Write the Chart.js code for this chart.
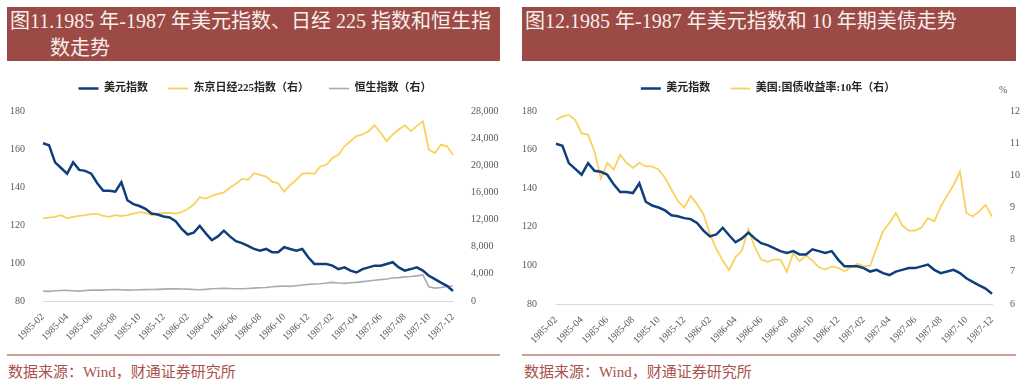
<!DOCTYPE html>
<html>
<head>
<meta charset="utf-8">
<script src="https://cdn.jsdelivr.net/npm/chart.js@4/dist/chart.umd.min.js"></script>
<style>
  body { margin: 0; width: 1024px; height: 387px; background: #fff; position: relative; overflow: hidden;
         font-family: 'Liberation Serif', 'Noto Sans CJK SC', serif; }
  .ttl { position: absolute; top: 7px; height: 54px; background: #9B4A46; color: #F8EDEA; font-size: 20px;
         line-height: 27px; white-space: nowrap; box-sizing: border-box; padding: 1px 0 0 3px; }
  .box { position: absolute; top: 57px; height: 291px; }
  .rule { position: absolute; top: 354px; height: 2px; background: #CFA09B; }
  .src { position: absolute; top: 360px; font-size: 15px; color: #A9524C; }
  .unit { position: absolute; left: 999px; top: 84px; font-size: 10px; color: #595959; }
</style>
</head>
<body>
<div class="ttl" style="left:7px;width:493px">图11.1985 年-1987 年美元指数、日经 225 指数和恒生指<div style="padding-left:40px">数走势</div></div>
<div class="ttl" style="left:522px;width:494px">图12.1985 年-1987 年美元指数和 10 年期美债走势</div>

<div class="box" style="left:0;width:510px"><canvas id="c1"></canvas></div>
<div class="box" style="left:512px;width:512px"><canvas id="c2"></canvas></div>
<div class="unit">%</div>

<div class="rule" style="left:7px;width:493px"></div>
<div class="rule" style="left:522px;width:494px"></div>
<div class="src" style="left:8px">数据来源：Wind，财通证券研究所</div>
<div class="src" style="left:524px">数据来源：Wind，财通证券研究所</div>

<script>
/* 1985-02 .. 1987-12, values read twice a month (1st / 16th) off the picture */
var MONTHS = ['1985-02','1985-03','1985-04','1985-05','1985-06','1985-07','1985-08','1985-09','1985-10','1985-11','1985-12',
  '1986-01','1986-02','1986-03','1986-04','1986-05','1986-06','1986-07','1986-08','1986-09','1986-10','1986-11','1986-12',
  '1987-01','1987-02','1987-03','1987-04','1987-05','1987-06','1987-07','1987-08','1987-09','1987-10','1987-11','1987-12'];

// 美元指数 (left axis, both charts)
var USD = [163,162,153,150,147,153,149,148.5,147,142,
  138,138,137.5,142.5,133,131,130,128.5,126,125.5,
  124.5,124,122,118,115,116,119.5,115.6,112,114,
  117,114,111.5,110.5,109,107.4,106.5,107.4,105.7,105.7,
  108.3,107.4,106.5,107.4,103,99.5,99.5,99.5,98.6,96.8,
  97.7,96,95,96.8,97.7,98.6,98.6,99.5,100.4,97.7,
  96,96.8,97.7,96,93.3,91.5,89.7,88,85.3];

// 东京日经225指数 (right axis)
var N225 = [12180,12300,12400,12650,12180,12400,12560,12650,12800,12880,
  12530,12400,12650,12530,12650,12880,13100,12970,12650,12880,
  12970,12970,12880,13100,13550,14200,15300,15100,15500,15800,
  16000,16700,17280,18000,17850,18840,18590,18340,17600,17350,
  16110,17100,17850,18740,18840,18740,19830,20080,21070,21560,
  22800,23550,24300,24540,25030,25880,24790,23550,24540,25280,
  25880,25030,25780,26520,22300,21800,23050,22800,21560];

// 恒生指数 (right axis)
var HSI = [1450,1420,1500,1550,1560,1500,1450,1550,1600,1620,
  1600,1650,1680,1650,1600,1620,1650,1680,1700,1720,
  1750,1780,1800,1760,1750,1700,1650,1720,1800,1850,
  1880,1850,1800,1800,1850,1900,1950,2000,2100,2150,
  2200,2150,2250,2350,2450,2500,2550,2650,2750,2650,
  2600,2700,2750,2850,2950,3050,3150,3250,3400,3450,
  3550,3600,3700,3850,2100,1900,2000,2150,2200];

// 美国:国债收益率:10年 (%)
var UST10 = [11.72,11.83,11.88,11.72,11.31,11.26,10.75,9.9,10.39,10.18,
  10.64,10.39,10.23,10.39,10.28,10.28,10.18,9.92,9.56,9.20,
  9.00,9.36,9.10,8.79,8.18,7.71,7.35,7.05,7.46,7.66,
  8.33,7.77,7.38,7.31,7.38,7.38,7.0,7.58,7.33,7.51,
  7.35,7.14,7.07,7.17,7.12,7.02,7.15,7.25,7.17,7.19,
  7.74,8.26,8.52,8.83,8.44,8.28,8.28,8.38,8.67,8.57,
  9.03,9.37,9.70,10.12,8.83,8.72,8.88,9.08,8.72];

var NAVY = '#0F3E7C', GOLD = '#F8D25C', GREY = '#A7ABB6', TICK = '#595959';
var FONT = "'Liberation Serif', 'Noto Sans CJK SC', serif";

var LABELS = [];
MONTHS.forEach(function (m, i) {
  LABELS.push(m + '-01');
  if (i < MONTHS.length - 1) LABELS.push(m + '-16');
});

Chart.defaults.font.family = FONT;
Chart.defaults.font.size = 10;
Chart.defaults.color = TICK;

// a little air between the legend row and the plot
var legendGap = {
  id: 'legendGap',
  beforeInit: function (chart) {
    var fit = chart.legend.fit;
    chart.legend.fit = function () { fit.call(this); this.height += 7; };
  }
};

function line(label, data, color, width, axis) {
  return { label: label, data: data, yAxisID: axis, borderColor: color, backgroundColor: color,
           borderWidth: width, pointRadius: 0, tension: 0, fill: false };
}

function fixW(w) { return function (s) { s.width = w; }; }
function fixH(h) { return function (s) { s.height = h; }; }

function xAxis(h) {
  return { type: 'category', offset: false, grid: { display: false },
    border: { display: true, color: '#D9D9D9', width: 1 },
    afterFit: fixH(h),
    ticks: { autoSkip: false, minRotation: 45, maxRotation: 45, padding: 2, color: TICK,
      callback: function (v, i) { return i % 4 === 0 ? LABELS[i].slice(0, 7) : ''; } } };
}

function yAxis(pos, min, max, step, w, pad) {
  return { type: 'linear', position: pos, min: min, max: max,
    grid: { display: false }, border: { display: false }, afterFit: fixW(w),
    ticks: { stepSize: step, padding: pad, color: TICK } };
}

function legend() {
  return { position: 'top', align: 'center',
    labels: { usePointStyle: true, pointStyle: 'line', pointStyleWidth: 20, padding: 20, color: '#262626',
      font: { family: FONT, size: 11, weight: 'bold' } } };
}

new Chart(document.getElementById('c1'), {
  type: 'line',
  plugins: [legendGap],
  data: { labels: LABELS, datasets: [
    line('美元指数', USD, NAVY, 2.5, 'yL'),
    line('东京日经225指数（右）', N225, GOLD, 1.8, 'yR'),
    line('恒生指数（右）', HSI, GREY, 1.6, 'yR')
  ] },
  options: {
    responsive: true, maintainAspectRatio: false, animation: false,
    layout: { padding: { top: 6, left: 0, right: 0, bottom: 0 } },
    plugins: { legend: legend(), tooltip: { enabled: false } },
    scales: {
      x: xAxis(47),
      yL: yAxis('left', 80, 180, 20, 43, 10),
      yR: yAxis('right', 0, 28000, 4000, 57, 10)
    }
  }
});

new Chart(document.getElementById('c2'), {
  type: 'line',
  plugins: [legendGap],
  data: { labels: LABELS, datasets: [
    line('美元指数', USD, NAVY, 2.5, 'yL'),
    line('美国:国债收益率:10年（右）', UST10, GOLD, 1.8, 'yR')
  ] },
  options: {
    responsive: true, maintainAspectRatio: false, animation: false,
    layout: { padding: { top: 6, left: 0, right: 0, bottom: 0 } },
    plugins: { legend: legend(), tooltip: { enabled: false } },
    scales: {
      x: xAxis(44),
      yL: yAxis('left', 80, 180, 20, 44, 11),
      yR: yAxis('right', 6, 12, 1, 32, 10)
    }
  }
});
</script>
</body>
</html>
